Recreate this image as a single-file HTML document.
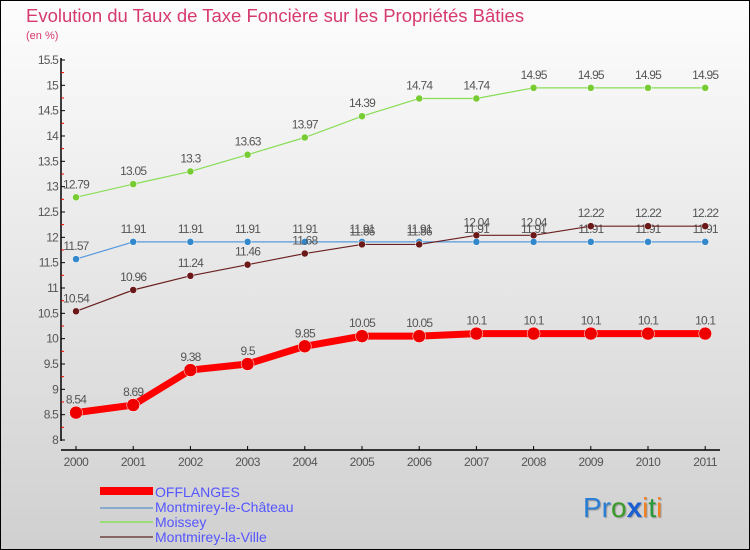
<!DOCTYPE html>
<html><head><meta charset="utf-8"><style>
html,body{margin:0;padding:0}
body{width:750px;height:550px;overflow:hidden;font-family:"Liberation Sans",sans-serif}
#wrap{position:relative;width:748px;height:548px;border:1px solid #000;background:linear-gradient(#fdfdfd,#d0d0d0)}
</style></head><body>
<div id="wrap">
<svg id="chart" width="748" height="548" viewBox="1 1 748 548" style="position:absolute;left:0;top:0">
<text x="26" y="22" font-size="18.5" fill="#d63a6f">Evolution du Taux de Taxe Foncière sur les Propriétés Bâties</text>
<text x="26" y="39" font-size="11" fill="#d63a6f">(en %)</text>
<g id="axes"></g><g id="series"></g>
<g>
<rect x="100" y="487" width="53" height="8" fill="#ff0000"/>
<text x="155" y="497" font-size="14" fill="#5555ff">OFFLANGES</text>
<rect x="100" y="507" width="53" height="2" fill="#88aacc"/>
<text x="155" y="512" font-size="14" fill="#5555ff">Montmirey-le-Château</text>
<rect x="100" y="521" width="53" height="2" fill="#99dd77"/>
<text x="155" y="527" font-size="14" fill="#5555ff">Moissey</text>
<rect x="100" y="536" width="53" height="2" fill="#886666"/>
<text x="155" y="542" font-size="14" fill="#5555ff">Montmirey-la-Ville</text>
</g>
<g font-size="28" style="text-shadow:1px 1px 1px #999">
<text x="583" y="517"><tspan fill="#2a7fd4">Pr</tspan><tspan fill="#3a9a2a">o</tspan><tspan fill="#1a5fd0" font-weight="bold">x</tspan><tspan fill="#f08020">i</tspan><tspan fill="#2a9a3a">t</tspan><tspan fill="#f08020">i</tspan></text>
</g>
</svg>
</div>
<script>
const years=[2000,2001,2002,2003,2004,2005,2006,2007,2008,2009,2010,2011];
const offlanges=[8.54,8.69,9.38,9.5,9.85,10.05,10.05,10.1,10.1,10.1,10.1,10.1];
const chateau=[11.57,11.91,11.91,11.91,11.91,11.91,11.91,11.91,11.91,11.91,11.91,11.91];
const moissey=[12.79,13.05,13.3,13.63,13.97,14.39,14.74,14.74,14.95,14.95,14.95,14.95];
const ville=[10.54,10.96,11.24,11.46,11.68,11.86,11.86,12.04,12.04,12.22,12.22,12.22];
const yTicks=[8,8.5,9,9.5,10,10.5,11,11.5,12,12.5,13,13.5,14,14.5,15,15.5];
const NS="http://www.w3.org/2000/svg";
function xs(i){return 76+i*57.2;}
function ys(v){return 440-(v-8)*50.67;}
function mk(t,a,p){const e=document.createElementNS(NS,t);for(const k in a)e.setAttribute(k,a[k]);p.appendChild(e);return e;}
const ax=document.getElementById('axes');
let l=mk('line',{x1:61,y1:58,x2:61,y2:441,stroke:'#000','stroke-width':1.5},ax);


l=mk('line',{x1:61,y1:450,x2:720,y2:450,stroke:'#000','stroke-width':1.5},ax);


yTicks.forEach((v,i)=>{
  mk('line',{x1:61,y1:ys(v),x2:65,y2:ys(v),stroke:'#000'},ax);
  if(i<yTicks.length-1)mk('line',{x1:61,y1:ys(v+0.25),x2:64,y2:ys(v+0.25),stroke:'#e00'},ax);
  const t=mk('text',{x:58,y:ys(v)+4,'font-size':12,fill:'#555','text-anchor':'end','letter-spacing':'-0.8'},ax);
  t.textContent=String(v);
  
  
});
years.forEach((y,i)=>{
  mk('line',{x1:xs(i),y1:446,x2:xs(i),y2:450,stroke:'#000'},ax);
  const t=mk('text',{x:xs(i),y:466,'font-size':12,fill:'#555','text-anchor':'middle','letter-spacing':'-0.5'},ax);
  t.textContent=String(y);
  
  
});
const sg=document.getElementById('series');
function draw(vals,color,w,r,name,fill){
  const g=mk('g',{},sg);
  
  
  const p=mk('polyline',{points:vals.map((v,i)=>xs(i)+','+ys(v)).join(' '),fill:'none',stroke:color,'stroke-width':w,'stroke-linejoin':'round'},g);
  
  
  vals.forEach((v,i)=>{
    const c=mk('circle',{cx:xs(i),cy:ys(v),r:r,fill:fill,stroke:'#fff','stroke-width':0.5},g);
    
    
    const t=mk('text',{x:xs(i),y:ys(v)-9,'font-size':12,fill:'#555','text-anchor':'middle','letter-spacing':'-0.8'},g);
    t.textContent=String(v);
    
    
  });
}
draw(moissey,'#88dd55',1.2,3.5,'moissey','#77cc33');
draw(chateau,'#5599dd',1.2,3.5,'chateau','#3388cc');
draw(ville,'#6b2020',1.2,3.5,'ville','#6b1818');
draw(offlanges,'#ff0000',7,6.5,'offlanges','#ee0000');
</script>
</body></html>
